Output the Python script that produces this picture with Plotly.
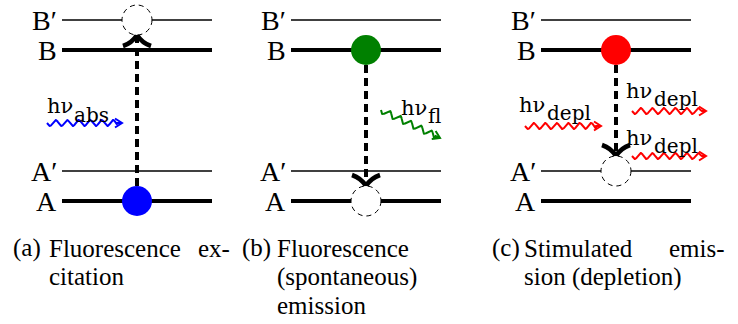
import numpy as np
import plotly.graph_objects as go

# ---------------- data ----------------
level_names = ["B′", "B", "A′", "A"]
level_y = [20, 50, 171, 201]            # energy levels (drawing units)
level_thick = [False, True, False, True]

panel_ids = ["a", "b", "c"]
particle_level = ["A", "B", "B"]        # where the filled state sits
particle_color = ["#0000ff", "#008000", "#ff0000"]
hole_level = ["B′", "A", "A′"]          # where the empty (dashed) state sits

photon_panel = ["a", "b", "c", "c", "c"]
photon_sub = ["abs", "fl", "depl", "depl", "depl"]
photon_color = ["#0000ff", "#008000", "#ff0000", "#ff0000", "#ff0000"]

caption_lines = {
    "a": [["(a)", "Fluorescence", "ex-"], ["citation"]],
    "b": [["(b)", "Fluorescence"], ["(spontaneous)"], ["emission"]],
    "c": [["(c)", "Stimulated", "emis-"], ["sion (depletion)"]],
}

# ---------------- layout constants ----------------
W, H = 738, 324
panel_left = {"a": 62, "b": 291, "c": 541}
panel_right = {"a": 212, "b": 441, "c": 691}
panel_mid = {"a": 137, "b": 366, "c": 616}
R = 15

photon_start = [(47, 123), (381, 110), (525, 126), (632, 111), (632, 156)]
photon_end = [(122, 123), (440, 138), (601, 126), (706, 111), (706, 156)]
label_main_pos = [(45, 113), (399, 115), (517, 112), (624, 98), (624, 145)]
label_sub_pos = [(72, 121), (426, 122), (545, 119), (652, 105), (652, 152)]

cap_left = {"a": 11, "b": 240, "c": 490}
cap_indent = {"a": 47, "b": 275, "c": 522}
cap_right = {"a": 232, "b": None, "c": 727}
cap_line_y = [248, 276.5, 305]

SERIF = "Liberation Serif"
MATH = "DejaVu Serif"

fig = go.Figure()
shapes = []
annotations = []

ymap = dict(zip(level_names, level_y))

# energy levels
for p in panel_ids:
    for name, y, thick in zip(level_names, level_y, level_thick):
        fig.add_trace(go.Scatter(
            x=[panel_left[p], panel_right[p]], y=[y, y], mode="lines",
            line=dict(color="black", width=4 if thick else 1.5),
            hoverinfo="skip"))
        annotations.append(dict(
            x=panel_left[p] - 3, y=y, xref="x", yref="y", text=name,
            showarrow=False, xanchor="right", yanchor="middle",
            font=dict(family=SERIF, size=28, color="black")))

# transitions (dashed) + chevrons
for i, p in enumerate(panel_ids):
    cx = panel_mid[p]
    yp = ymap[particle_level[i]]
    yh = ymap[hole_level[i]]
    if yh < yp:   # upward
        y_start = yp - R
        tip = yh + R
        y_end = tip + 4
        sgn = 1
    else:
        y_start = yp + R
        tip = yh - R
        y_end = tip - 4
        sgn = -1
    fig.add_trace(go.Scatter(
        x=[cx, cx], y=[y_start, y_end], mode="lines",
        line=dict(color="black", width=4, dash="8px,5px"), hoverinfo="skip"))
    # chevron: arms go back towards the start
    a0 = tip + sgn * 11
    am = tip + sgn * 8
    path = (f"M {cx-14},{a0} Q {cx-5},{am} {cx},{tip} "
            f"Q {cx+5},{am} {cx+14},{a0}")
    shapes.append(dict(type="path", path=path, xref="x", yref="y",
                       line=dict(color="black", width=4.5)))
    # filled particle
    shapes.append(dict(type="circle", xref="x", yref="y",
                       x0=cx - R, x1=cx + R, y0=yp - R, y1=yp + R,
                       fillcolor=particle_color[i], line=dict(width=0)))
    # empty state
    shapes.append(dict(type="circle", xref="x", yref="y",
                       x0=cx - R, x1=cx + R, y0=yh - R, y1=yh + R,
                       fillcolor="white",
                       line=dict(color="black", width=1, dash="5px,4px")))

# photons (wavy arrows)
for k in range(len(photon_panel)):
    (x0, y0), (x1, y1) = photon_start[k], photon_end[k]
    L = np.hypot(x1 - x0, y1 - y0)
    ux, uy = (x1 - x0) / L, (y1 - y0) / L
    nx, ny = -uy, ux
    s = np.linspace(0, L, 300)
    wave_len = L - 5
    amp = np.where(s < wave_len, 3.0 * np.sin(2 * np.pi * s / 11.5), 0.0)
    xs = x0 + ux * s + nx * amp
    ys = y0 + uy * s + ny * amp
    c = photon_color[k]
    fig.add_trace(go.Scatter(x=xs, y=ys, mode="lines",
                             line=dict(color=c, width=2), hoverinfo="skip"))
    hl, hw = 7, 4.5
    bx, by = x1 - ux * hl, y1 - uy * hl
    fig.add_trace(go.Scatter(
        x=[bx + nx * hw, x1, bx - nx * hw], y=[by + ny * hw, y1, by - ny * hw],
        mode="lines", line=dict(color=c, width=2), hoverinfo="skip"))
    mx, my = label_main_pos[k]
    annotations.append(dict(x=mx, y=my - 7, xref="x", yref="y", text="hν",
                            showarrow=False, xanchor="left", yanchor="middle",
                            font=dict(family=MATH, size=21, color="black")))
    sx, sy = label_sub_pos[k]
    annotations.append(dict(x=sx, y=sy - 6, xref="x", yref="y",
                            text=photon_sub[k],
                            showarrow=False, xanchor="left", yanchor="middle",
                            font=dict(family=MATH, size=20, color="black")))

# captions
for p in panel_ids:
    for li, words in enumerate(caption_lines[p]):
        y = cap_line_y[li]
        if li == 0:
            annotations.append(dict(x=cap_left[p], y=y, text=words[0],
                                    xanchor="left"))
            annotations.append(dict(x=cap_indent[p], y=y, text=words[1],
                                    xanchor="left"))
            if len(words) > 2:
                annotations.append(dict(x=cap_right[p], y=y, text=words[2],
                                        xanchor="right"))
        else:
            annotations.append(dict(x=cap_indent[p], y=y, text=words[0],
                                    xanchor="left"))
for a in annotations:
    if "font" not in a:
        a.update(xref="x", yref="y", showarrow=False, yanchor="middle",
                 font=dict(family=SERIF, size=25, color="black"))

fig.update_layout(
    width=W, height=H, margin=dict(l=0, r=0, t=0, b=0),
    paper_bgcolor="white", plot_bgcolor="white", showlegend=False,
    xaxis=dict(range=[0, W], visible=False, fixedrange=True),
    yaxis=dict(range=[H, 0], visible=False, fixedrange=True),
    shapes=shapes, annotations=annotations)

fig.write_html("out.html")
